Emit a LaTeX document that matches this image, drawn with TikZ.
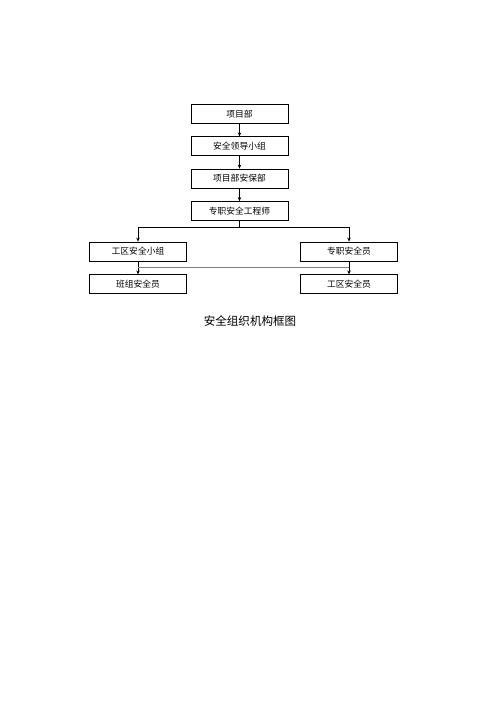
\documentclass[tikz,border=0pt]{standalone}
\usepackage{fontspec}
\newfontfamily\cjk{Noto Sans CJK SC}
\usetikzlibrary{arrows.meta}
\begin{document}
\begin{tikzpicture}[x=1bp,y=-1bp,
  box/.style={draw,line width=0.6bp,minimum width=97bp,minimum height=19bp,inner sep=0,font=\cjk\fontsize{8.8}{10}\selectfont},
  conn/.style={line width=0.6bp,-{Stealth[length=4bp,width=3.5bp]}},
  plain/.style={line width=0.6bp}]
\useasboundingbox (0,0) rectangle (500,707);
\node[box] (b1) at (239.5,113.8) {项目部};
\node[box] (b2) at (239.5,146.2) {安全领导小组};
\node[box] (b3) at (239.5,178.4) {项目部安保部};
\node[box] (b4) at (239.5,210.9) {专职安全工程师};
\node[box] (l1) at (138,251.4) {工区安全小组};
\node[box] (r1) at (349,251.4) {专职安全员};
\node[box] (l2) at (138,284.2) {班组安全员};
\node[box] (r2) at (349,284.2) {工区安全员};
\node[font=\cjk\fontsize{11.6}{13}\selectfont] (cap) at (250,321) {安全组织机构框图};
\draw[conn] (b1) -- (b2);
\draw[conn] (b2) -- (b3);
\draw[conn] (b3) -- (b4);
\coordinate (h) at (239.5,227.7);
\draw[plain] (b4.south) -- (h);
\draw[conn] (h) -| (l1.north);
\draw[conn] (h) -| (r1.north);
\draw[conn] (l1) -- (l2);
\draw[conn] (r1) -- (r2);
\coordinate (m) at (138,267.7);
\draw[plain,gray] (m) -- (m -| r1.south);
\end{tikzpicture}
\end{document}
